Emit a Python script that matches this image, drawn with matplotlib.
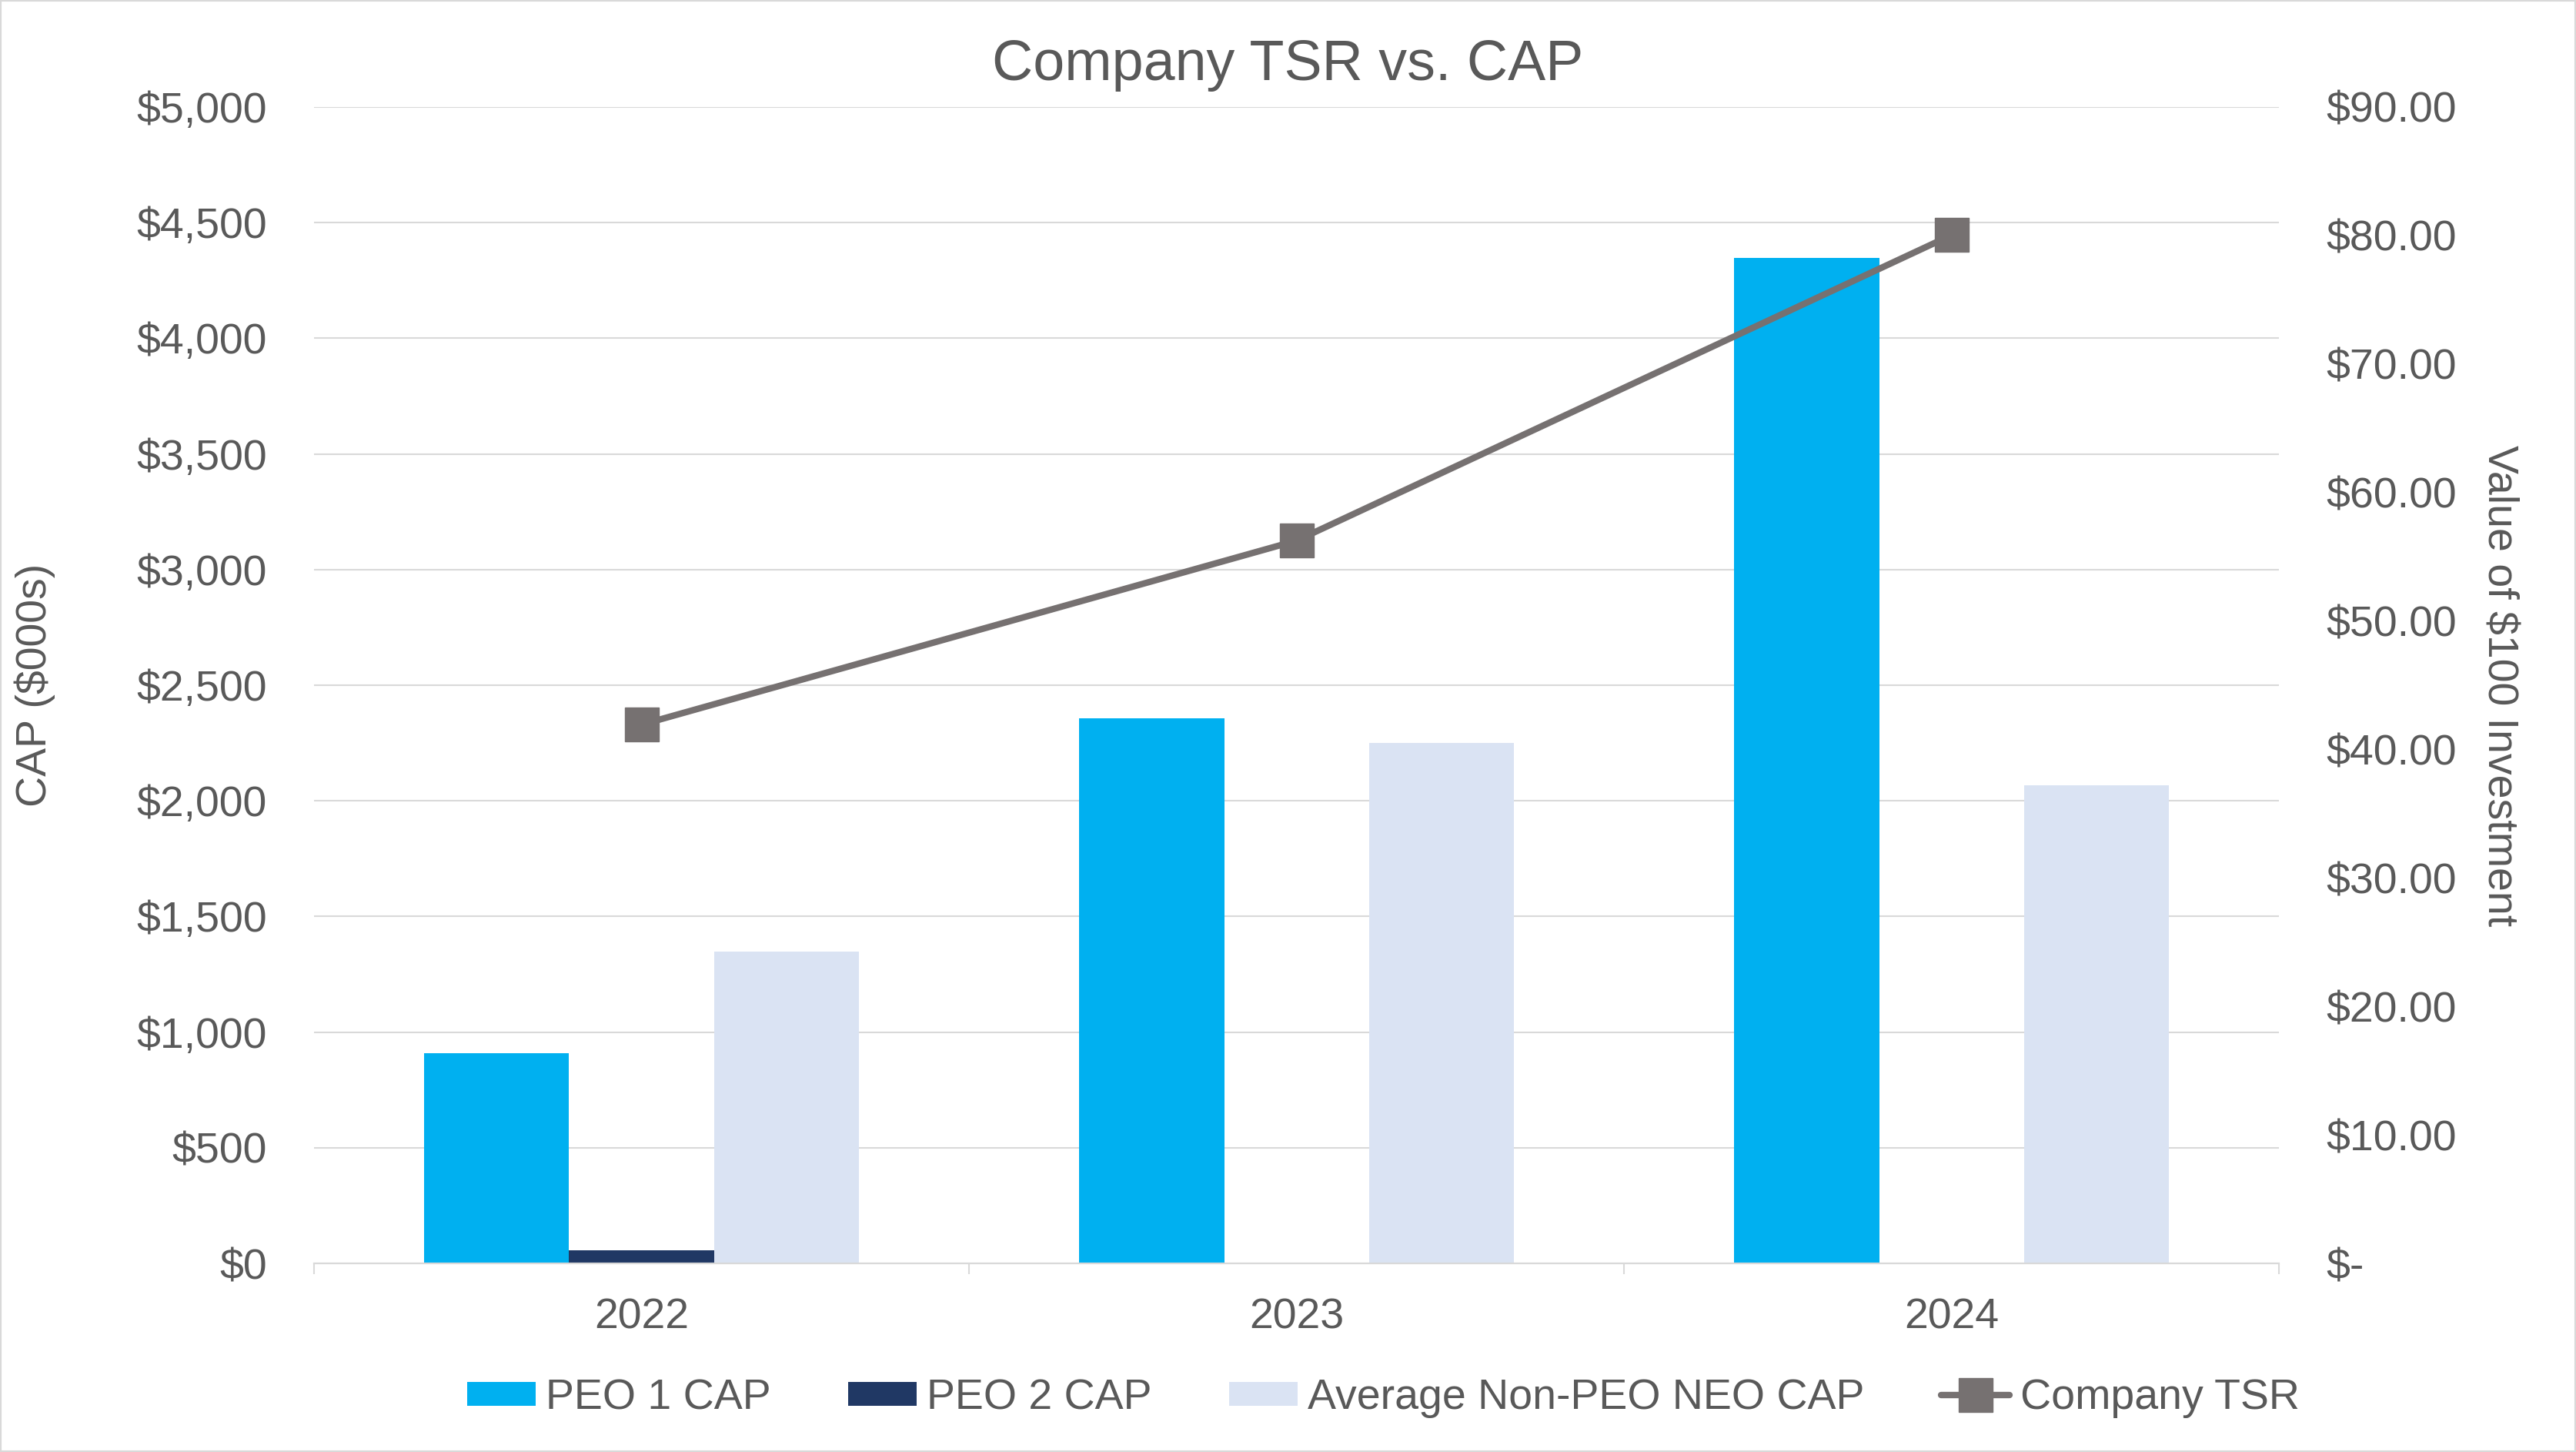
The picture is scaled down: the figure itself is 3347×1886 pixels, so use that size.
import matplotlib
matplotlib.use("Agg")
import matplotlib.pyplot as plt
from matplotlib.patches import Rectangle
from matplotlib.ticker import FuncFormatter, MultipleLocator, FixedLocator
import numpy as np

plt.rcParams['font.family'] = ['Liberation Sans', 'DejaVu Sans']

years = ["2022", "2023", "2024"]
peo1_cap = [909, 2358, 4347]
peo2_cap = [57, 0, 0]
non_peo_cap = [1349, 2251, 2067]
company_tsr = [41.93, 56.25, 80.03]

TEXT = "#595959"
GRID = "#D9D9D9"

fig = plt.figure(figsize=(33.47, 18.86), dpi=100)
ax = fig.add_axes([0.1219, 0.1299, 0.7628, 0.7964])
ax2 = ax.twinx()

x = np.arange(len(years))
w = 0.221
b1 = ax.bar(x - w, peo1_cap, w, color="#00B0F0", label="PEO 1 CAP", zorder=2)
b2 = ax.bar(x, peo2_cap, w, color="#203864", label="PEO 2 CAP", zorder=2)
b3 = ax.bar(x + w, non_peo_cap, w, color="#DAE3F3", label="Average Non-PEO NEO CAP", zorder=2)
ln, = ax2.plot(x, company_tsr, color="#767171", lw=6, marker="s", markersize=31,
               label="Company TSR", solid_capstyle="round")

ax.set_xlim(-0.5, 2.5)
ax.set_ylim(0, 5000)
ax2.set_ylim(0, 90)
ax.yaxis.set_major_locator(MultipleLocator(500))
ax2.yaxis.set_major_locator(MultipleLocator(10))
ax.yaxis.set_major_formatter(FuncFormatter(lambda v, p: f"${v:,.0f}"))
ax2.yaxis.set_major_formatter(FuncFormatter(lambda v, p: "$-" if v == 0 else f"${v:,.2f}"))

ax.grid(axis="y", color=GRID, lw=1.5, zorder=0)
ax.set_axisbelow(True)

for a in (ax, ax2):
    for s in ("top", "left", "right"):
        a.spines[s].set_visible(False)
    a.spines["bottom"].set_color(GRID)
    a.spines["bottom"].set_linewidth(1.5)

ax.xaxis.set_major_locator(FixedLocator([-0.5, 0.5, 1.5, 2.5]))
ax.xaxis.set_major_formatter(FuncFormatter(lambda v, p: ""))
ax.set_xticks(x, minor=True)
ax.set_xticklabels(years, minor=True)
ax.tick_params(axis="x", which="major", length=10, width=1.5, color=GRID)
ax.tick_params(axis="x", which="minor", length=0, pad=32, labelsize=40, labelcolor=TEXT)
ax.tick_params(axis="y", length=0, pad=44, labelsize=40, labelcolor=TEXT)
ax2.tick_params(axis="y", length=0, pad=44, labelsize=40, labelcolor=TEXT)

fig.text(0.0135, 0.528, "CAP ($000s)", rotation=90, ha="center", va="center",
         fontsize=40, color=TEXT)
fig.text(0.970, 0.528, "Value of $100 Investment", rotation=270, ha="center", va="center",
         fontsize=40, color=TEXT)
fig.text(0.5, 0.955, "Company TSR vs. CAP", ha="center", va="center",
         fontsize=53, color=TEXT)

fig.legend(handles=[b1, b2, b3, ln], loc="center", bbox_to_anchor=(0.537, 0.037),
           ncol=4, frameon=False, fontsize=40, labelcolor=TEXT,
           handlelength=1.6, handleheight=0.5, handletextpad=0.24, columnspacing=1.8)

fig.patches.append(Rectangle((0, 0), 1, 1, transform=fig.transFigure, fill=False,
                             edgecolor=GRID, lw=3))

fig.savefig("out.png", dpi=100)
